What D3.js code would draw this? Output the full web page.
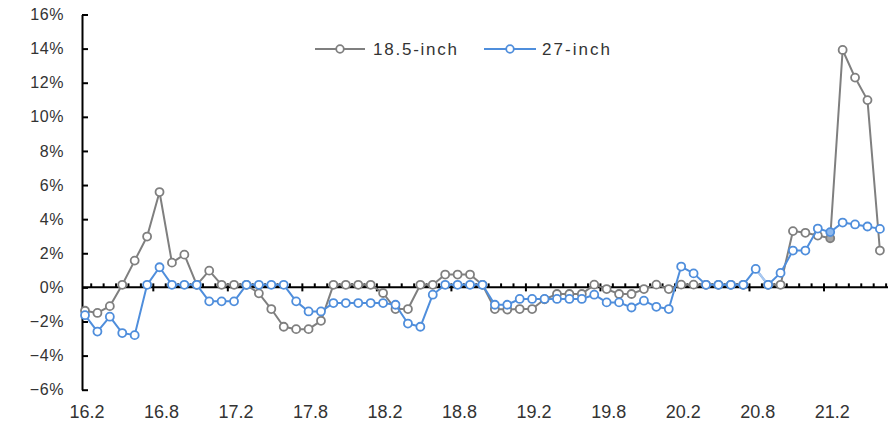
<!DOCTYPE html>
<html>
<head>
<meta charset="utf-8">
<script src="https://cdn.jsdelivr.net/npm/d3@7"></script>
<style>
  html, body { margin: 0; padding: 0; background: #ffffff; }
  svg { display: block; }
  text { font-family: "Liberation Sans", Arial, sans-serif; fill: #333333; }
</style>
</head>
<body>
<svg id="chart" width="889" height="421"></svg>
<script>
// ---- data ----
const categories = [
  "16.2","16.3","16.4","16.5","16.6","16.7","16.8","16.9","16.10","16.11","16.12",
  "17.1","17.2","17.3","17.4","17.5","17.6","17.7","17.8","17.9","17.10","17.11","17.12",
  "18.1","18.2","18.3","18.4","18.5","18.6","18.7","18.8","18.9","18.10","18.11","18.12",
  "19.1","19.2","19.3","19.4","19.5","19.6","19.7","19.8","19.9","19.10","19.11","19.12",
  "20.1","20.2","20.3","20.4","20.5","20.6","20.7","20.8","20.9","20.10","20.11","20.12",
  "21.1","21.2","21.3","21.4","21.5","21.6"
];
const tickLabels = ["16.2","16.8","17.2","17.8","18.2","18.8","19.2","19.8","20.2","20.8","21.2"];
const yTicks = [-6,-4,-2,0,2,4,6,8,10,12,14,16];
const seriesNames = ["18.5-inch", "27-inch"];
const inch185 = [
  -1.37,-1.5,-1.1,0.15,1.57,2.98,5.59,1.45,1.92,0.15,0.98,
  0.15,0.15,0.15,-0.35,-1.27,-2.31,-2.45,-2.45,-1.96,0.15,0.15,0.15,
  0.15,-0.33,-1.27,-1.27,0.15,0.15,0.75,0.75,0.75,0.15,-1.27,-1.3,
  -1.27,-1.27,-0.7,-0.39,-0.39,-0.39,0.16,-0.1,-0.39,-0.39,-0.1,0.16,
  -0.1,0.16,0.16,0.15,0.15,0.15,0.15,null,0.15,0.15,3.3,3.2,
  3.04,2.88,13.92,12.3,10.98,2.16
];
const inch27 = [
  -1.63,-2.59,-1.72,-2.68,-2.8,0.15,1.18,0.15,0.15,0.15,-0.82,
  -0.82,-0.82,0.15,0.15,0.15,0.15,-0.82,-1.41,-1.41,-0.92,-0.92,-0.92,
  -0.92,-0.92,-1.02,-2.12,-2.31,-0.43,0.15,0.15,0.15,0.15,-1.02,-1.02,
  -0.68,-0.68,-0.68,-0.68,-0.68,-0.68,-0.43,-0.88,-0.88,-1.18,-0.78,-1.14,
  -1.27,1.22,0.82,0.15,0.15,0.15,0.15,1.08,0.15,0.85,2.16,2.16,
  3.45,3.24,3.8,3.69,3.57,3.43
];

// ---- styling ----
const colors = ["#7f7f7f", "#4f8edc"];
const fills = ["#a6a6a6", "#8cb8ee"];
const svg = d3.select("#chart");

const x = d3.scalePoint().domain(categories).range([85, 879.9]);
const step = x.step();
const y = d3.scaleLinear().domain([-6, 16]).range([389.7, 14.5]);

const axisLeftX = 82;
const axisRightX = 888;

// Y axis
const yAxis = d3.axisLeft(y)
  .tickValues(yTicks)
  .tickSizeInner(-6)
  .tickSizeOuter(0)
  .tickPadding(18)
  .tickFormat(d => d3.format("d")(d) + "%");
const gy = svg.append("g").attr("transform", `translate(${axisLeftX},0)`).call(yAxis);
gy.select(".domain").attr("stroke", "#000").attr("stroke-width", 2);
gy.selectAll(".tick line").attr("stroke", "#000").attr("stroke-width", 2);
gy.selectAll(".tick text")
  .style("font-family", '"Liberation Sans", Arial, sans-serif')
  .style("font-size", "16px")
  .style("letter-spacing", "0.6px")
  .attr("fill", "#333");

// X axis (at y = 0)
const y0 = y(0);
const gx = svg.append("g");
gx.append("line")
  .attr("x1", axisLeftX).attr("x2", axisRightX)
  .attr("y1", y0).attr("y2", y0)
  .attr("stroke", "#000").attr("stroke-width", 2);
const tickIdx = d3.range(categories.length);
gx.selectAll("line.tk").data(tickIdx).join("line")
  .attr("class", "tk")
  .attr("x1", i => x(categories[i]) + step / 2)
  .attr("x2", i => x(categories[i]) + step / 2)
  .attr("y1", i => ((i + 1) % 6 === 0) ? y0 - 4 : y0 - 4)
  .attr("y2", i => ((i + 1) % 6 === 0) ? y0 + 4 : y0)
  .attr("stroke", "#000").attr("stroke-width", 2);
gx.selectAll("text.lbl").data(tickLabels).join("text")
  .attr("class", "lbl")
  .attr("x", d => x(d) + 2)
  .attr("y", 418)
  .attr("text-anchor", "middle")
  .style("font-size", "18px")
  .text(d => d);

// Series
const line = d3.line()
  .defined(d => d.v !== null)
  .x(d => x(d.c))
  .y(d => y(d.v));

[inch185, inch27].forEach((vals, s) => {
  const pts = vals.map((v, i) => ({ c: categories[i], v, i }));
  svg.append("path")
    .datum(pts)
    .attr("d", line)
    .attr("fill", "none")
    .attr("stroke", colors[s])
    .attr("stroke-width", 2)
    .attr("stroke-linejoin", "round");
  if (s === 1) {
    // lighter segment 20.8 -> 20.9
    const seg = pts.slice(54, 56);
    svg.append("path").datum(seg).attr("d", line)
      .attr("fill", "none").attr("stroke", "#a9c8f0").attr("stroke-width", 2.2);
  }
  svg.append("g").selectAll("circle")
    .data(pts.filter(d => d.v !== null))
    .join("circle")
    .attr("cx", d => x(d.c))
    .attr("cy", d => y(d.v))
    .attr("r", 4)
    .attr("fill", d => d.c === "21.2" ? fills[s] : "#fff")
    .attr("stroke", colors[s])
    .attr("stroke-width", 1.8);
});

// Legend
const legend = [
  { name: seriesNames[0], x1: 315, x2: 365, tx: 373, tw: 84 },
  { name: seriesNames[1], x1: 484, x2: 536, tx: 542, tw: 68 }
];
legend.forEach((L, s) => {
  const g = svg.append("g");
  g.append("line").attr("x1", L.x1).attr("x2", L.x2).attr("y1", 49).attr("y2", 49)
    .attr("stroke", colors[s]).attr("stroke-width", 2);
  g.append("circle").attr("cx", (L.x1 + L.x2) / 2).attr("cy", 49).attr("r", 3.8)
    .attr("fill", "#fff").attr("stroke", colors[s]).attr("stroke-width", 1.8);
  g.append("text").attr("x", L.tx).attr("y", 55)
    .attr("textLength", L.tw).attr("lengthAdjust", "spacing")
    .style("font-size", "17px")
    .text(L.name);
});
</script>
</body>
</html>
